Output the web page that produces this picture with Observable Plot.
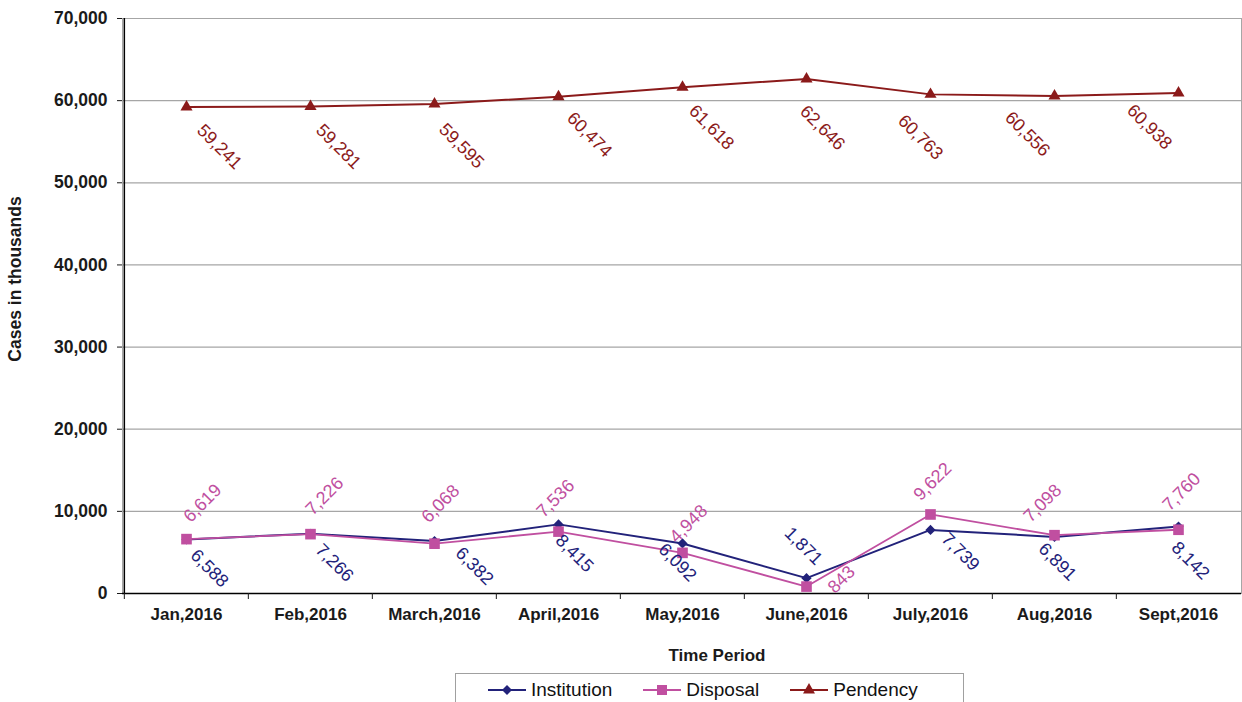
<!DOCTYPE html>
<html>
<head>
<meta charset="utf-8">
<script src="https://cdn.jsdelivr.net/npm/d3@7"></script>
<script src="https://cdn.jsdelivr.net/npm/@observablehq/plot@0.6"></script>
<style>
  html, body { margin: 0; padding: 0; background: #fff; }
  #wrap { position: relative; width: 1242px; height: 702px; overflow: hidden; font-family: "Liberation Sans", Arial, sans-serif; }
  #legend {
    position: absolute; left: 455px; top: 673px; width: 509px; height: 40px;
    border: 1px solid #a0a0a0; box-sizing: border-box;
    display: flex; align-items: flex-start; padding-left: 32px; padding-top: 5px;
    font-size: 19px; color: #111;
  }
  .item { display: flex; align-items: center; margin-right: 31px; line-height: 22px; }
  .item svg { margin-right: 5px; }
</style>
</head>
<body>
<div id="wrap">
  <div id="chart"></div>
  <div id="legend"></div>
</div>
<script>
// Monthly case counts, 2016
const months = ["Jan,2016", "Feb,2016", "March,2016", "April,2016", "May,2016", "June,2016", "July,2016", "Aug,2016", "Sept,2016"];
const institution = [6588, 7266, 6382, 8415, 6092, 1871, 7739, 6891, 8142];
const disposal = [6619, 7226, 6068, 7536, 4948, 843, 9622, 7098, 7760];
const pendency = [59241, 59281, 59595, 60474, 61618, 62646, 60763, 60556, 60938];
const yTicks = [0, 10000, 20000, 30000, 40000, 50000, 60000, 70000];

const W = 1242, H = 672;
const M = {top: 18, right: 1, bottom: 79, left: 122};
const step = (W - M.left - M.right) / months.length;
const fmt = d3.format(",");
const font = "Liberation Sans, Arial, sans-serif";

// Per-label nudges (px) so value labels sit clear of the lines
const series = [
  {name: "Institution", values: institution, color: "#22227a", symbol: "diamond2", r: 4.6, width: 2, rotate: 45,
   nudge: [[23, 29], [24, 29], [40, 25], [16, 29], [-5, 19], [-3, -32], [30, 22], [3, 25], [12, 34]]},
  {name: "Disposal", values: disposal, color: "#c04fa0", symbol: "square", r: 6, width: 1.8, rotate: -45,
   nudge: [[16, -36], [14, -38], [6, -40], [-3, -33], [6, -29], [35, -7], [2, -33], [-12, -32], [3, -38]]},
  {name: "Pendency", values: pendency, color: "#8b1a1a", symbol: "triangle", r: 4.5, width: 2, rotate: 45,
   nudge: [[33, 40], [28, 40], [27, 42], [31, 38], [29, 40], [16, 49], [-10, 43], [-27, 38], [-29, 34]]}
];

const rowsOf = s => months.map((m, i) => ({month: m, value: s.values[i]}));

const seriesMarks = series.flatMap(s => {
  const rows = rowsOf(s);
  return [
    Plot.line(rows, {x: "month", y: "value", stroke: s.color, strokeWidth: s.width}),
    Plot.dot(rows, {x: "month", y: "value", symbol: () => s.symbol, r: s.r, fill: s.color, stroke: "none"})
  ];
});

const labelMarks = series.flatMap(s => rowsOf(s).map((row, i) =>
  Plot.text([row], {
    x: "month", y: "value", text: d => fmt(d.value),
    rotate: s.rotate, fill: s.color, fontSize: 18,
    textAnchor: "middle", lineAnchor: "middle",
    dx: s.nudge[i][0], dy: s.nudge[i][1]
  })
));

const chart = Plot.plot({
  width: W, height: H,
  marginTop: M.top, marginRight: M.right, marginBottom: M.bottom, marginLeft: M.left,
  style: {fontFamily: font, fontSize: "17px", background: "#fff", overflow: "visible"},
  x: {type: "point", domain: months, padding: 0.5, axis: null},
  y: {domain: [0, 70000], axis: null},
  symbol: {type: "identity"},
  marks: [
    Plot.frame({stroke: "#a6a6a6"}),
    Plot.ruleY(yTicks.filter(t => t > 0), {stroke: "#a6a6a6", strokeWidth: 1.2}),
    Plot.ruleY([0], {stroke: "#000", strokeWidth: 1.5}),
    Plot.ruleX([months[0]], {dx: -step / 2, stroke: "#000", strokeWidth: 1.5}),
    Plot.axisY({ticks: yTicks, tickFormat: fmt, tickSize: 5, tickPadding: 10, fontSize: 17.5, fontWeight: "bold", color: "#1a1a1a", label: null}),
    Plot.axisX(months, {tickSize: 6, tickFormat: () => "", dx: -step / 2, color: "#1a1a1a", label: null}),
    Plot.axisX({tickSize: 0, tickPadding: 14, fontSize: 17, fontWeight: "bold", color: "#1a1a1a", label: null}),
    Plot.text(["Cases in thousands"], {text: d => d, frameAnchor: "left", rotate: -90, textAnchor: "middle", lineAnchor: "middle", dx: -107, dy: -27, fontSize: 17.5, fontWeight: "bold", fill: "#1a1a1a"}),
    Plot.text(["Time Period"], {text: d => d, frameAnchor: "bottom", textAnchor: "middle", lineAnchor: "middle", dx: 35, dy: 62, fontSize: 17, fontWeight: "bold", fill: "#1a1a1a"}),
    ...seriesMarks,
    ...labelMarks
  ]
});
document.getElementById("chart").append(chart);

// Legend: line + marker swatch for each series
const legend = d3.select("#legend");
const symbolPaths = {
  diamond2: d3.symbol(d3.symbolDiamond2, 64)(),
  square: d3.symbol(d3.symbolSquare, 100)(),
  triangle: d3.symbol(d3.symbolTriangle, 62)()
};
for (const s of series) {
  const item = legend.append("div").attr("class", "item");
  const sw = item.append("svg").attr("width", 38).attr("height", 16);
  sw.append("line").attr("x1", 0).attr("x2", 38).attr("y1", 8).attr("y2", 8)
    .attr("stroke", s.color).attr("stroke-width", 2);
  sw.append("path").attr("d", symbolPaths[s.symbol]).attr("transform", "translate(19,8)").attr("fill", s.color);
  item.append("span").text(s.name);
}
</script>
</body>
</html>
